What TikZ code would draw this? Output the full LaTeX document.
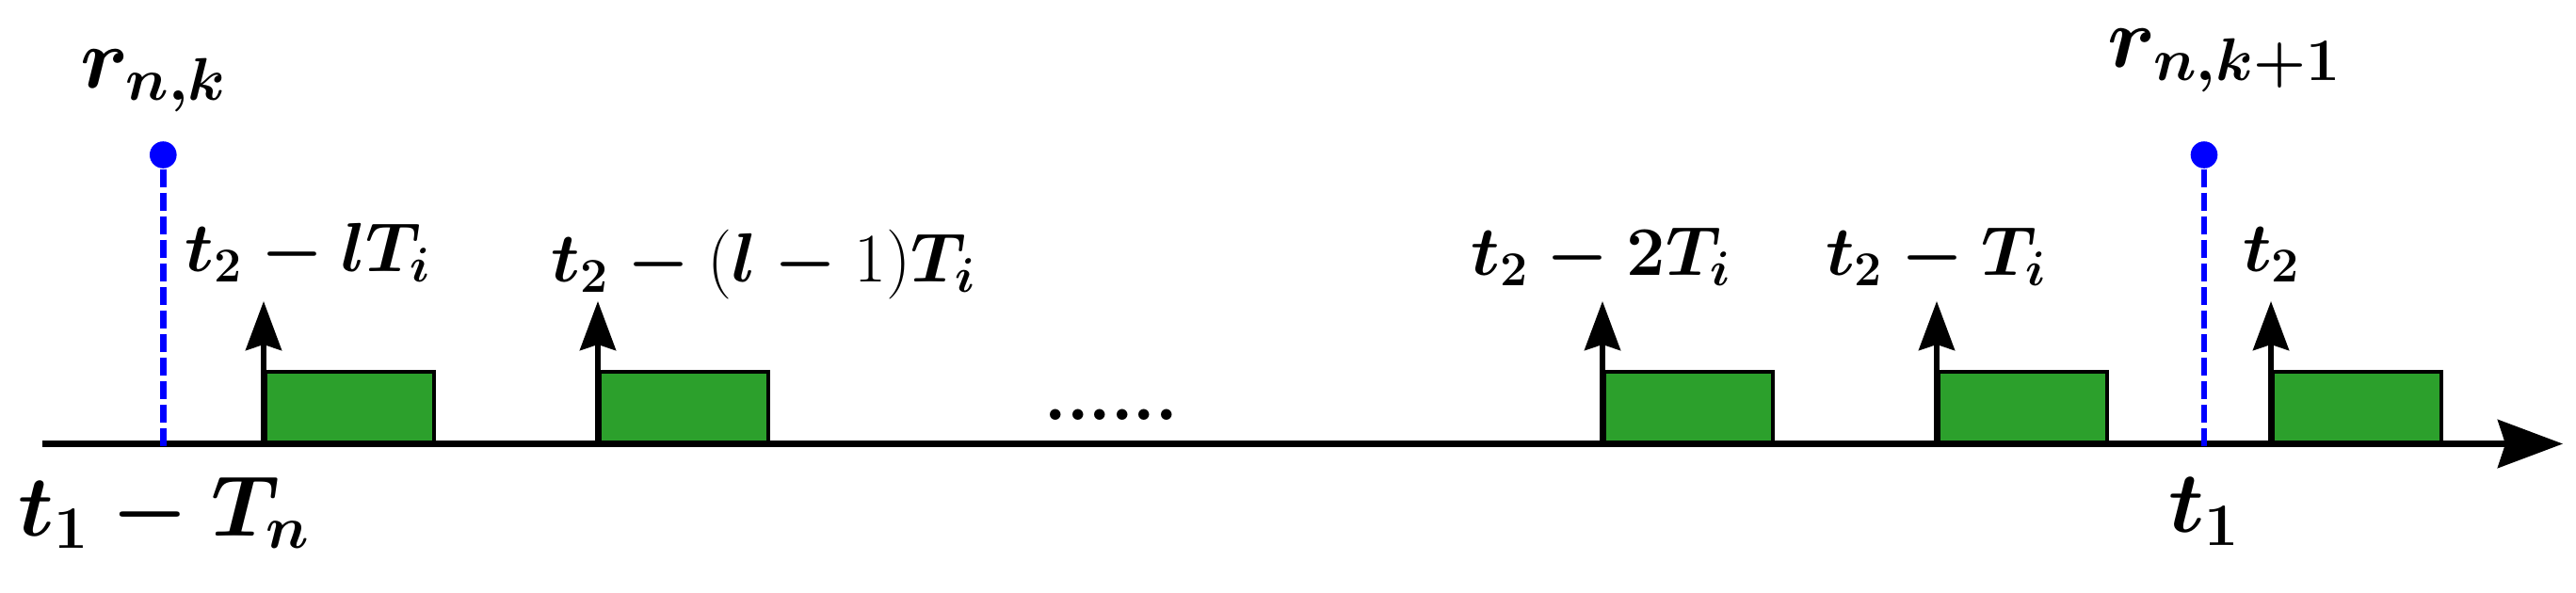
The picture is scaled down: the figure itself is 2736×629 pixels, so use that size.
\documentclass[tikz,border=0pt]{standalone}
\usepackage{fix-cm}
\usetikzlibrary{arrows.meta}
\definecolor{barg}{RGB}{44,160,44}
\definecolor{dotb}{RGB}{0,0,255}
\begin{document}
\begin{tikzpicture}[x=0.01cm,y=-0.01cm,
  lbl/.style={font=\fontsize{21}{25}\selectfont\boldmath, inner sep=0pt, anchor=base},
  biglbl/.style={font=\fontsize{26}{30}\selectfont\boldmath, inner sep=0pt, anchor=base},
  axisline/.style={line width=0.063cm, -{Stealth[length=0.69cm,width=0.51cm,inset=0.08cm]}},
  tick/.style={line width=0.055cm, -{Stealth[length=0.52cm,width=0.38cm,inset=0.06cm]}},
  slot/.style={draw=black, fill=barg, line width=0.04cm, rectangle, inner sep=0pt, minimum width=1.79cm, minimum height=0.745cm, anchor=south west},
  rdot/.style={circle, fill=dotb, inner sep=0pt, minimum size=0.286cm},
  rline/.style={draw=dotb, line width=0.067cm, dash pattern=on 0.197cm off 0.053cm}]
\useasboundingbox (0,0) rectangle (2736,629);
% axis
\coordinate (a0) at (45,471.5);
\coordinate (a1) at (2722,471.5);
\draw[axisline] (a0) -- (a1);
% slots
\node[slot] (b1) at (280,471.5) {};
\node[slot] (b2) at (635,471.5) {};
\node[slot] (b3) at (1702,471.5) {};
\node[slot] (b4) at (2057,471.5) {};
\node[slot] (b5) at (2412,471.5) {};
% arrow tips
\coordinate (q1) at (280,320);
\coordinate (q2) at (635,320);
\coordinate (q3) at (1702,320);
\coordinate (q4) at (2057,320);
\coordinate (q5) at (2412,320);
\draw[tick] (b1.south west) -- (q1);
\draw[tick] (b2.south west) -- (q2);
\draw[tick] (b3.south west) -- (q3);
\draw[tick] (b4.south west) -- (q4);
\draw[tick] (b5.south west) -- (q5);
% request markers
\node[rdot] (r1) at (173.3,164.5) {};
\node[rdot] (r2) at (2341,164.5) {};
\coordinate (r1b) at (173.3,475);
\coordinate (r2b) at (2341,475);
\draw[rline] (r1) -- (r1b);
\draw[rline] (r2) -- (r2b);
% labels
\node[lbl] (l1) at (327.5,288) {$t_2-lT_i$};
\node[lbl] (l2) at (811.4,299) {$t_2-\textnormal{(}l-\textnormal{1)}T_i$};
\node[lbl] (l3) at (1700.6,292) {$t_2-2T_i$};
\node[lbl] (l4) at (2056.7,292) {$t_2-T_i$};
\node[lbl] (l5) at (2412.9,288) {$t_2$};
\node[lbl] (dots) at (1180.5,446) {$......$};
\node[biglbl] (rk) at (163.4,93) {$r_{n,k}$};
\node[biglbl] (rk1) at (2362.9,71.7) {$r_{n,k+1}$};
\node[biglbl] (tl) at (174.7,569) {$t_1-T_n$};
\node[biglbl] (tr) at (2341,565.7) {$t_1$};
\end{tikzpicture}
\end{document}
